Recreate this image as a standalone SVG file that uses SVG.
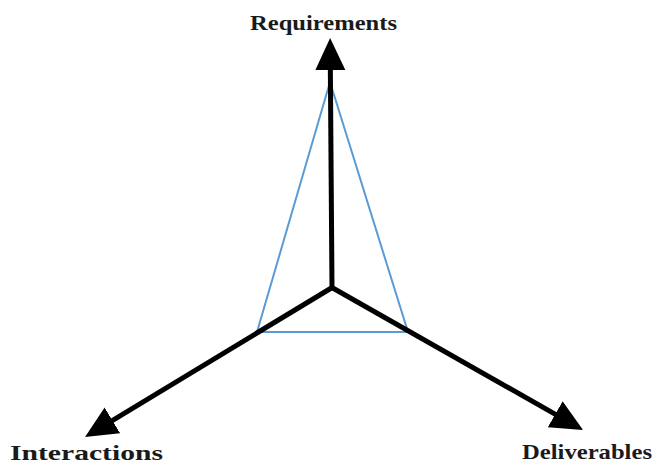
<svg xmlns="http://www.w3.org/2000/svg" width="654" height="464" viewBox="0 0 654 464">
<defs>
<marker id="ah" markerUnits="userSpaceOnUse" markerWidth="34" markerHeight="32" refX="20" refY="15" orient="auto" viewBox="0 0 34 32">
<path d="M0,0 L32,15 L0,30 z" fill="#000"/>
</marker>
<style>
.ax{stroke:#000;stroke-width:5;fill:none;marker-end:url(#ah)}
.lbl{font-family:"Liberation Serif",serif;font-weight:bold;font-size:21px;fill:#1a1a1a}
</style>
</defs>
<rect width="654" height="464" fill="#fff"/>
<g id="triangle">
<polygon points="330,82 257,332 408,332" fill="none" stroke="#5b9bd5" stroke-width="2"/>
</g>
<g id="connectors">
<line class="ax" x1="332" y1="289" x2="330.2" y2="50"/>
<line class="ax" x1="333" y1="287" x2="95.3" y2="430.8"/>
<line class="ax" x1="331" y1="287" x2="572.6" y2="424.1"/>
</g>
<g id="requirements"><text class="lbl" x="250" y="30" textLength="147" lengthAdjust="spacingAndGlyphs">Requirements</text></g>
<g id="interactions"><text class="lbl" x="10" y="460" font-size="22" textLength="153" lengthAdjust="spacingAndGlyphs">Interactions</text></g>
<g id="deliverables"><text class="lbl" x="522" y="459" textLength="130" lengthAdjust="spacingAndGlyphs">Deliverables</text></g>
</svg>
